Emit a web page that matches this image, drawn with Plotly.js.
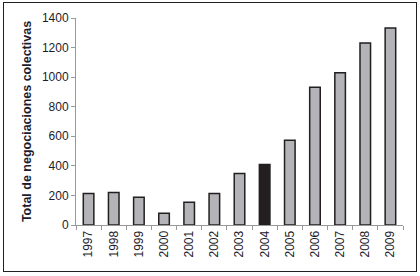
<!DOCTYPE html>
<html>
<head>
<meta charset="utf-8">
<script src="https://cdn.plot.ly/plotly-3.0.1.min.js"></script>
<style>
  html, body { margin: 0; padding: 0; background: #fff; }
  #frame { position: absolute; left: 3px; top: 2px; width: 412px; height: 268px; border: 1.6px solid #231f20; }
  #chart { position: absolute; left: 0; top: 0; width: 420px; height: 276px; }
</style>
</head>
<body>
<div id="frame"></div>
<div id="chart"></div>
<script>
const years = ['1997','1998','1999','2000','2001','2002','2003','2004','2005','2006','2007','2008','2009'];
const totals = [213, 220, 188, 79, 154, 213, 349, 410, 573, 932, 1029, 1231, 1332];
const highlightYear = '2004';
const yTitle = 'Total de negociaciones colectivas';

const fills = years.map(y => y === highlightYear ? '#231f20' : '#b3b3b8');

const trace = {
  type: 'bar',
  x: years,
  y: totals,
  marker: { color: fills, line: { color: '#231f20', width: 1.5 } },
  hoverinfo: 'skip'
};

const layout = {
  width: 420, height: 276,
  margin: { l: 76, r: 17, t: 18, b: 51 },
  paper_bgcolor: 'rgba(0,0,0,0)',
  plot_bgcolor: 'rgba(0,0,0,0)',
  bargap: 0.58,
  showlegend: false,
  font: { family: 'Liberation Sans, Arial, sans-serif', color: '#1c1c2c', size: 12 },
  xaxis: {
    type: 'category',
    tickangle: -90,
    ticks: 'outside', ticklen: 4, tickcolor: '#999', tickwidth: 1,
    tickson: 'boundaries',
    showline: true, linecolor: '#999', linewidth: 1,
    showgrid: false, zeroline: false,
    tickfont: { size: 12 }
  },
  yaxis: {
    range: [0, 1400], dtick: 200,
    ticks: 'outside', ticklen: 4, tickcolor: '#999', tickwidth: 1,
    showline: true, linecolor: '#999', linewidth: 1,
    showgrid: false, zeroline: false,
    tickfont: { size: 12 },
    title: { text: '<b>' + yTitle + '</b>', font: { size: 12.5, color: '#1c1c2c' }, standoff: 7 }
  }
};

Plotly.newPlot('chart', [trace], layout, { displayModeBar: false, staticPlot: true });
</script>
</body>
</html>
